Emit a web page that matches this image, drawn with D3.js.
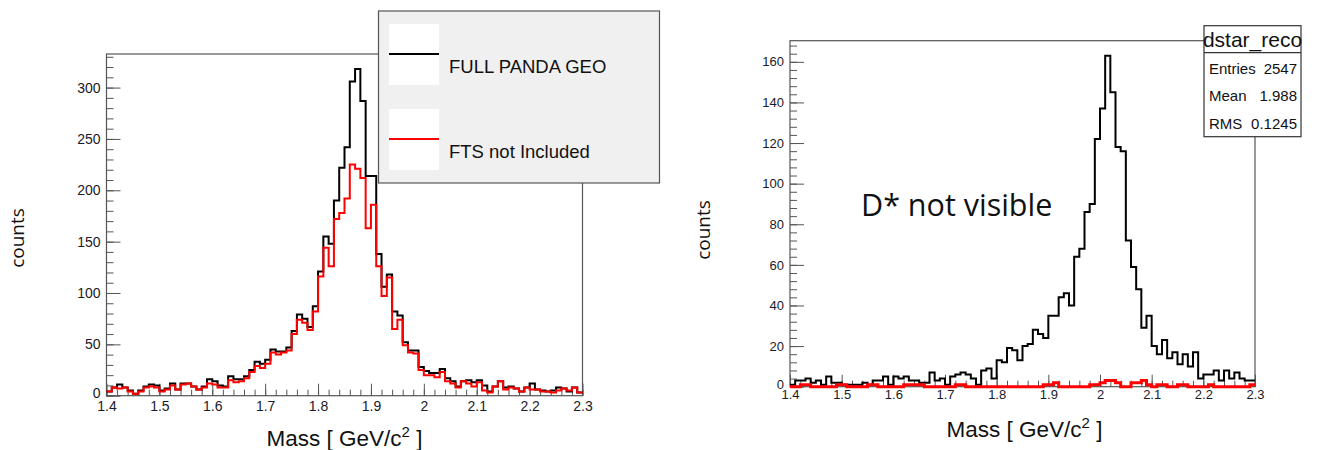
<!DOCTYPE html>
<html>
<head>
<meta charset="utf-8">
<script src="https://cdn.jsdelivr.net/npm/d3@7"></script>
<style>
  body { margin: 0; background: #fff; }
  text { font-family: 'Liberation Sans', Arial, sans-serif; }
</style>
</head>
<body>
<div id="mainContainer"></div>
<script>
'use strict';

// binning (0.01 GeV bins from 1.40 to 2.30)
var binStart = 1.4,
    binWidth = 0.01;

var xTickValues = [1.4, 1.5, 1.6, 1.7, 1.8, 1.9, 2.0, 2.1, 2.2, 2.3];
var xTickLabels = ['1.4', '1.5', '1.6', '1.7', '1.8', '1.9', '2', '2.1', '2.2', '2.3'];

// left panel
var fullGeoCounts = [
    4, 8, 11, 8, 5, 2, 5, 9, 11, 10,
    5, 7, 12, 6, 12, 12, 9, 6, 9, 16,
    14, 10, 9, 19, 16, 16, 19, 25, 33, 31,
    35, 45, 43, 43, 47, 63, 79, 75, 67, 87,
    121, 155, 148, 190, 222, 242, 306, 318, 287, 214,
    214, 138, 106, 118, 82, 78, 52, 44, 44, 28,
    24, 22, 22, 26, 17, 14, 9, 14, 15, 13,
    15, 10, 4, 9, 14, 8, 9, 7, 4, 8,
    12, 6, 5, 4, 5, 8, 7, 4, 8, 3
];
var noFtsCounts = [
    4, 8, 7, 8, 4, 2, 4, 8, 9, 8,
    4, 6, 10, 6, 11, 12, 9, 6, 8, 12,
    11, 8, 8, 15, 13, 14, 17, 23, 29, 27,
    31, 42, 40, 42, 44, 60, 74, 71, 64, 82,
    116, 144, 126, 172, 178, 192, 225, 221, 212, 163,
    186, 126, 97, 115, 65, 74, 49, 42, 41, 25,
    20, 20, 18, 23, 14, 12, 8, 14, 12, 9,
    13, 5, 3, 9, 14, 6, 8, 7, 4, 8,
    6, 6, 4, 4, 3, 5, 7, 5, 8, 3
];
var leftYTicks = [0, 50, 100, 150, 200, 250, 300];
var leftYMinor = d3.range(0, 331, 10);
var legendLabels = ['FULL PANDA GEO', 'FTS not Included'];

// right panel (dstar_reco)
var dstarFullCounts = [
    1, 3, 3, 4, 2, 3, 1, 5, 2, 2,
    1, 1, 1, 1, 2, 1, 3, 3, 5, 1,
    5, 4, 5, 3, 3, 2, 2, 7, 3, 4,
    1, 5, 6, 7, 6, 4, 1, 8, 9, 4,
    13, 12, 19, 18, 13, 20, 21, 28, 26, 24,
    35, 35, 44, 46, 40, 64, 68, 86, 90, 122,
    137, 163, 145, 118, 116, 72, 59, 48, 29, 35,
    20, 16, 23, 14, 17, 11, 16, 10, 17, 4,
    6, 6, 8, 3, 8, 4, 7, 4, 3, 3
];
var dstarNoFtsCounts = [
    0, 0, 1, 1, 0, 0, 0, 0, 0, 1,
    1, 0, 0, 0, 0, 1, 1, 0, 0, 0,
    0, 0, 1, 1, 1, 1, 0, 0, 0, 0,
    0, 0, 1, 1, 0, 0, 0, 0, 0, 0,
    0, 0, 0, 0, 0, 0, 0, 0, 0, 1,
    1, 2, 0, 0, 0, 0, 0, 0, 1, 1,
    2, 3, 3, 2, 0, 0, 2, 2, 3, 1,
    0, 1, 1, 0, 0, 1, 1, 0, 0, 0,
    0, 1, 0, 0, 0, 0, 0, 0, 0, 1
];
var rightYTicks = [0, 20, 40, 60, 80, 100, 120, 140, 160];
var rightYMinor = d3.range(0, 170, 4);
var statsLabels = ['Entries', 'Mean', 'RMS'];
var statsValues = ['2547', '1.988', '0.1245'];

var xMinor = d3.range(0, 46).map(function (i) { return +(1.4 + i * 0.02).toFixed(2); });

var svgWidth = 1329,
    svgHeight = 450;

var svg = d3.select('#mainContainer')
    .append('svg')
    .attr('width', svgWidth)
    .attr('height', svgHeight);

function drawPanel(p) {
    var x = d3.scaleLinear().domain([1.4, 2.3]).range([p.left, p.right]);
    var y = d3.scaleLinear().domain([0, p.yMax]).range([p.bottom, p.top]);
    var g = svg.append('g');

    // frame
    g.append('rect')
        .attr('x', p.left)
        .attr('y', p.top)
        .attr('width', p.right - p.left)
        .attr('height', p.bottom - p.top)
        .attr('fill', 'none')
        .attr('stroke', '#555')
        .attr('stroke-width', 1.2);

    // minor ticks
    g.append('g')
        .attr('transform', 'translate(' + p.left + ',0)')
        .call(d3.axisLeft(y).tickValues(p.yMinor).tickSizeInner(-7).tickSizeOuter(0).tickFormat(''));
    g.append('g')
        .attr('transform', 'translate(0,' + p.bottom + ')')
        .call(d3.axisBottom(x).tickValues(xMinor).tickSizeInner(-6).tickSizeOuter(0).tickFormat(''));

    // major ticks with labels
    g.append('g')
        .attr('class', 'yaxis')
        .attr('transform', 'translate(' + p.left + ',0)')
        .call(d3.axisLeft(y).tickValues(p.yTicks).tickSizeInner(-14).tickSizeOuter(0).tickPadding(6));
    g.append('g')
        .attr('class', 'xaxis')
        .attr('transform', 'translate(0,' + p.bottom + ')')
        .call(d3.axisBottom(x).tickValues(xTickValues).tickSizeInner(-12).tickSizeOuter(0).tickPadding(p.xPad)
            .tickFormat(function (d, i) { return xTickLabels[i]; }));

    g.selectAll('.domain').remove();
    g.selectAll('.tick line').attr('stroke', '#555');
    g.selectAll('.tick text')
        .attr('fill', '#1a1a2a')
        .style('font-size', p.labelSize + 'px')
        .style('font-family', "'Liberation Sans', Arial, sans-serif");
    // the zero label sits just above the first x label, as in the original
    g.selectAll('.yaxis .tick text').filter(function (d) { return d === 0; }).attr('dy', '0.1em');

    // histograms
    var line = d3.line()
        .x(function (d) { return x(d[0]); })
        .y(function (d) { return y(d[1]); })
        .curve(d3.curveStepAfter);

    p.series.forEach(function (s) {
        var pts = s.counts.map(function (c, i) { return [binStart + i * binWidth, c]; });
        pts.push([binStart + s.counts.length * binWidth, s.counts[s.counts.length - 1]]);
        g.append('path')
            .datum(pts)
            .attr('d', line)
            .attr('fill', 'none')
            .attr('stroke', s.color)
            .attr('stroke-width', s.width)
            .attr('stroke-linejoin', 'miter');
    });

    // x title
    var xt = g.append('text')
        .attr('x', (p.left + p.right) / 2 + p.xTitleShift)
        .attr('y', p.xTitleY)
        .attr('text-anchor', 'middle')
        .style('font-size', '22.5px')
        .attr('fill', '#111');
    xt.append('tspan').text('Mass [ GeV/c');
    xt.append('tspan').attr('dy', -9).style('font-size', '15px').text('2');
    xt.append('tspan').attr('dy', 9).text(' ]');

    // y title
    g.append('text')
        .attr('transform', 'translate(' + p.yTitleX + ',' + p.yTitleY + ') rotate(-90)')
        .attr('text-anchor', 'middle')
        .style('font-family', "'Open Sans', sans-serif")
        .style('font-size', '19px')
        .attr('fill', '#111')
        .text('counts');

    return g;
}

drawPanel({
    left: 106.5, right: 582.5, top: 54, bottom: 395.7, yMax: 332.7,
    yTicks: leftYTicks, yMinor: leftYMinor, labelSize: 14, xPad: 5,
    xTitleY: 446, xTitleShift: 0, yTitleX: 24, yTitleY: 238,
    series: [
        { counts: fullGeoCounts, color: '#000', width: 2 },
        { counts: noFtsCounts, color: '#ff0000', width: 2 }
    ]
});

drawPanel({
    left: 790, right: 1255, top: 40.7, bottom: 386.7, yMax: 170.4,
    yTicks: rightYTicks, yMinor: rightYMinor, labelSize: 13, xPad: 3,
    xTitleY: 437, xTitleShift: 2, yTitleX: 710, yTitleY: 230,
    series: [
        { counts: dstarFullCounts, color: '#000', width: 2 },
        { counts: dstarNoFtsCounts, color: '#ff0000', width: 3 }
    ]
});

// legend (left panel)
var legend = svg.append('g');
legend.append('rect')
    .attr('x', 378.5).attr('y', 11)
    .attr('width', 281).attr('height', 172)
    .attr('fill', '#f0f0f0')
    .attr('stroke', '#555')
    .attr('stroke-width', 1.2);
var legendColors = ['#000', '#ff0000'];
legendLabels.forEach(function (label, i) {
    var top = 24 + i * 85;
    legend.append('rect')
        .attr('x', 389).attr('y', top)
        .attr('width', 50).attr('height', 61)
        .attr('fill', '#fff');
    legend.append('line')
        .attr('x1', 389).attr('x2', 439)
        .attr('y1', top + 30).attr('y2', top + 30)
        .attr('stroke', legendColors[i])
        .attr('stroke-width', 2);
    legend.append('text')
        .attr('x', 449).attr('y', top + 49)
        .style('font-size', '18.5px')
        .attr('fill', '#111')
        .text(label);
});

// stats box (right panel)
var stats = svg.append('g');
stats.append('rect')
    .attr('x', 1204).attr('y', 25.7)
    .attr('width', 97).attr('height', 111)
    .attr('fill', '#fff')
    .attr('stroke', '#333')
    .attr('stroke-width', 1.2);
stats.append('line')
    .attr('x1', 1204).attr('x2', 1301)
    .attr('y1', 52.7).attr('y2', 52.7)
    .attr('stroke', '#333')
    .attr('stroke-width', 1.2);
stats.append('text')
    .attr('x', 1252.5).attr('y', 47)
    .attr('text-anchor', 'middle')
    .style('font-size', '21px')
    .attr('fill', '#111')
    .text('dstar_reco');
statsLabels.forEach(function (label, i) {
    var by = 73.5 + i * 27.5;
    stats.append('text')
        .attr('x', 1209).attr('y', by)
        .style('font-size', '15px')
        .attr('fill', '#111')
        .text(label);
    stats.append('text')
        .attr('x', 1297).attr('y', by)
        .attr('text-anchor', 'end')
        .style('font-size', '15px')
        .attr('fill', '#111')
        .text(statsValues[i]);
});

// annotation
svg.append('text')
    .attr('x', 861).attr('y', 216)
    .style('font-family', "'Open Sans', sans-serif")
    .style('font-size', '30.5px')
    .attr('fill', '#111')
    .text('D* not visible');
</script>
</body>
</html>
